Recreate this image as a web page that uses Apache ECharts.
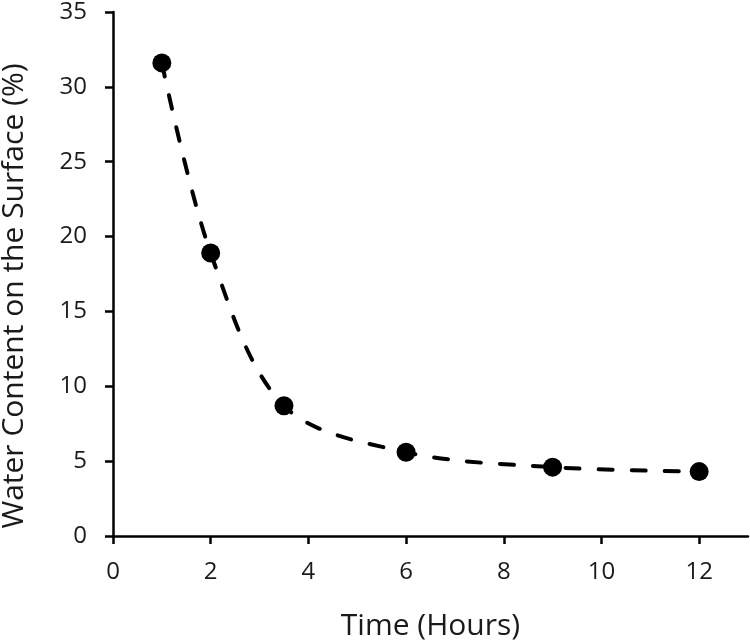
<!DOCTYPE html>
<html>
<head>
<meta charset="utf-8">
<script src="https://cdn.jsdelivr.net/npm/echarts@6/dist/echarts.min.js"></script>
<style>html,body{margin:0;padding:0;background:#fff}#c{width:750px;height:643px}</style>
</head>
<body>
<div id="c"></div>
<script>
var timeHours = [1, 2, 3.5, 6, 9, 12];
var waterContent = [31.6, 18.9, 8.7, 5.6, 4.6, 4.3];
var xTicks = [0, 2, 4, 6, 8, 10, 12];
var yTicks = [0, 5, 10, 15, 20, 25, 30, 35];

var FONT = 'Open Sans';
var chart = echarts.init(document.getElementById('c'), null, {renderer: 'canvas'});
var pts = timeHours.map(function (t, i) { return [t, waterContent[i]]; });

chart.setOption({
  animation: false,
  backgroundColor: '#ffffff',
  grid: {left: 113, right: 2, top: 12, bottom: 107, containLabel: false, outerBoundsMode: 'none'},
  xAxis: {
    type: 'value', min: 0, max: 13, interval: 2,
    name: 'Time (Hours)', nameLocation: 'middle', nameGap: 75,
    nameTextStyle: {fontFamily: FONT, fontSize: 30, color: '#1a1a1a'},
    axisLine: {show: true, onZero: false, lineStyle: {color: '#000', width: 2.5}},
    axisTick: {show: true, inside: false, length: 8, customValues: xTicks, lineStyle: {color: '#000', width: 2.5}},
    axisLabel: {fontFamily: FONT, fontSize: 24, color: '#1a1a1a', margin: 24, customValues: xTicks},
    splitLine: {show: false}
  },
  yAxis: {
    type: 'value', min: 0, max: 35, interval: 5,
    name: 'Water Content on the Surface (%)', nameLocation: 'middle', nameGap: 84,
    nameTextStyle: {fontFamily: FONT, fontSize: 30, color: '#1a1a1a', padding: [0, 44, 0, 0]},
    axisLine: {show: true, lineStyle: {color: '#000', width: 2.5}},
    axisTick: {show: true, inside: false, length: 8, customValues: yTicks, lineStyle: {color: '#000', width: 2.5}},
    axisLabel: {fontFamily: FONT, fontSize: 24, color: '#1a1a1a', margin: 26, customValues: yTicks},
    splitLine: {show: false}
  },
  series: [{
    type: 'line',
    data: pts,
    smooth: 0.33,
    symbol: 'circle',
    symbolSize: 19,
    itemStyle: {color: '#000'},
    lineStyle: {color: '#000', width: 4, type: [14, 19], cap: 'round'},
    z: 3
  }]
});
</script>
</body>
</html>
